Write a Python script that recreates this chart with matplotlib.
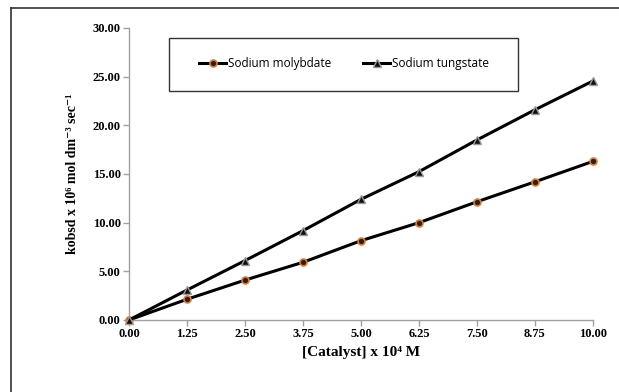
import numpy as np
import matplotlib
matplotlib.use("Agg")
import matplotlib.pyplot as plt
from matplotlib.lines import Line2D
from matplotlib.patches import Rectangle

conc = [0.00, 1.25, 2.50, 3.75, 5.00, 6.25, 7.50, 8.75, 10.00]
molybdate = [0.0, 2.13, 4.10, 5.93, 8.15, 10.0, 12.15, 14.2, 16.3]
tungstate = [0.0, 3.08, 6.10, 9.18, 12.4, 15.24, 18.5, 21.6, 24.56]
yticks = [0, 5, 10, 15, 20, 25, 30]

serif = ["Liberation Serif", "DejaVu Serif"]
W, H = 619, 392

fig = plt.figure(figsize=(6.19, 3.92), dpi=100)
ax = fig.add_axes([129 / W, 1 - 320 / H, (593 - 129) / W, (320 - 28) / H])

ax.plot(conc, molybdate, color="black", linewidth=2.2, marker="o", markersize=5,
        markerfacecolor="#222222", markeredgecolor="#e8782a", markeredgewidth=1.2,
        label="Sodium molybdate", clip_on=False, zorder=3)
ax.plot(conc, tungstate, color="black", linewidth=2.2, marker="^", markersize=6,
        markerfacecolor="#111111", markeredgecolor="#999999", markeredgewidth=1.0,
        label="Sodium tungstate", clip_on=False, zorder=3)

ax.set_xlim(0, 10)
ax.set_ylim(0, 30)
ax.set_xticks(conc)
ax.set_xticklabels([f"{v:.2f}" for v in conc])
ax.set_yticks(yticks)
ax.set_yticklabels([f"{v:.2f}" for v in yticks])

for side in ["top", "right"]:
    ax.spines[side].set_visible(False)
for side in ["left", "bottom"]:
    ax.spines[side].set_color("#a0a0a0")
    ax.spines[side].set_linewidth(1.0)
ax.tick_params(axis="both", direction="out", length=4, width=1.0, color="#a0a0a0",
               pad=2)
for lab in ax.get_xticklabels() + ax.get_yticklabels():
    lab.set_fontfamily(serif)
    lab.set_fontweight("bold")
    lab.set_fontsize(9)

ax.set_xlabel("[Catalyst] x 10\u2074 M", fontfamily=serif, fontweight="bold",
              fontsize=11, labelpad=4)
ax.set_ylabel("kobsd x 10\u2076 mol dm\u207b\u00b3 sec\u207b\u00b9", fontfamily=serif,
              fontweight="bold", fontsize=10, labelpad=10)

# legend entries without frame, frame drawn separately
leg = ax.legend(loc="center left",
                bbox_to_anchor=((199 - 129) / 464, (320 - 64) / 292),
                ncol=2, frameon=False, prop={"family": "Open Sans", "size": 8.5},
                handlelength=2.3, handletextpad=0.15, columnspacing=2.7,
                borderpad=0, borderaxespad=0)
fig.add_artist(Rectangle((169 / W, 1 - 91 / H), (518 - 169) / W, (91 - 38) / H,
                         transform=fig.transFigure, fill=False,
                         edgecolor="#333333", linewidth=1.0))

# outer chart border (top and left visible)
fig.add_artist(Line2D([11 / W, 1.0], [1 - 8 / H] * 2, color="#333333", lw=1.2))
fig.add_artist(Line2D([11 / W] * 2, [0.0, 1 - 8 / H], color="#333333", lw=1.2))

fig.savefig("out.png", dpi=100)
